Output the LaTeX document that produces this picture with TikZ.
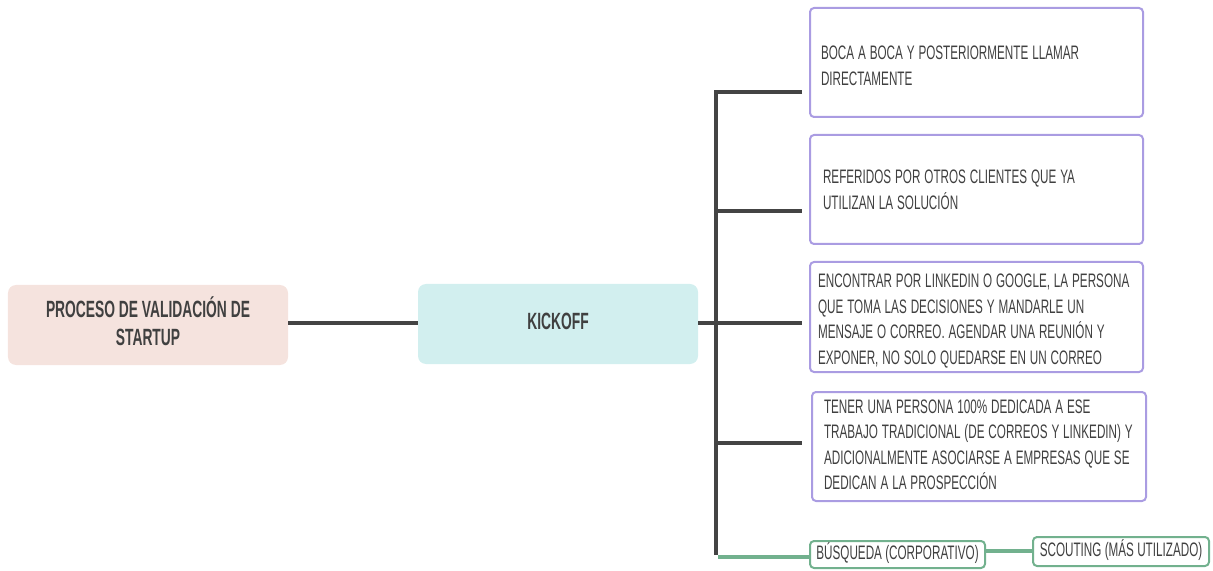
\documentclass[tikz,border=0pt]{standalone}
\usepackage{graphicx}
\usepackage{fontspec}
\setmainfont{Liberation Sans}
\definecolor{ink}{HTML}{404040}
\definecolor{trunkgrey}{HTML}{444444}
\definecolor{rootfill}{HTML}{F5E3DE}
\definecolor{kickfill}{HTML}{D2EFEF}
\definecolor{leafedge}{HTML}{AA9CE2}
\definecolor{greenedge}{HTML}{72B18E}
% condensed caps: squeeze a block of lines horizontally,
% optionally nudged down without changing its size
\newcommand{\hubtext}[1]{\scalebox{0.588}[1]{\begin{tabular}{@{}c@{}}#1\end{tabular}}}
\newcommand{\leaftext}[2][0bp]{\raisebox{#1}[\height][\depth]{\scalebox{0.6}[1]{\begin{tabular}{@{}l@{}}#2\end{tabular}}}}
\begin{document}
\begin{tikzpicture}[x=1bp,y=-1bp,
  hub/.style={rounded corners=8bp, inner sep=0pt, minimum width=280bp,
    minimum height=80bp, align=center, text=ink,
    font=\bfseries\fontsize{23.5bp}{28bp}\selectfont},
  leaf/.style={draw=leafedge, line width=2bp, rounded corners=4bp, fill=white,
    inner ysep=0pt, minimum height=109bp,
    align=left, text=ink, font=\fontsize{19.5bp}{25.5bp}\selectfont},
  tag/.style={draw=greenedge, line width=2bp, rounded corners=4bp, fill=white,
    inner sep=0pt, align=center, text=ink, font=\fontsize{19.5bp}{22bp}\selectfont},
  trunk/.style={draw=trunkgrey, line width=4bp},
  greenlink/.style={draw=greenedge, line width=4bp}]
\useasboundingbox (0,0) rectangle (1213,571);

% central nodes
\node[hub, fill=rootfill] (root) at (148,325) {\hubtext{PROCESO DE VALIDACIÓN DE\\STARTUP}};
\node[hub, fill=kickfill] (kick) at (558,324) {\hubtext{KICKOFF}};

% leaf boxes (text width + 2 inner xsep = 333)
\node[leaf, inner xsep=11bp, text width=311bp] (boca) at (976.5,62.5) {\leaftext[-5bp]{BOCA A BOCA Y POSTERIORMENTE LLAMAR\\DIRECTAMENTE}};
\node[leaf, inner xsep=13bp, text width=307bp] (refer) at (976.5,189.5) {\leaftext[-2bp]{REFERIDOS POR OTROS CLIENTES QUE YA\\UTILIZAN LA SOLUCIÓN}};
\node[leaf, inner xsep=8bp, text width=317bp, minimum height=110bp] (encon) at (976.5,317) {\leaftext[-4bp]{ENCONTRAR POR LINKEDIN O GOOGLE, LA PERSONA\\QUE TOMA LAS DECISIONES Y MANDARLE UN\\MENSAJE O CORREO. AGENDAR UNA REUNIÓN Y\\EXPONER, NO SOLO QUEDARSE EN UN CORREO}};
\node[leaf, inner xsep=12bp, text width=310bp] (tener) at (979,446.5) {\leaftext{TENER UNA PERSONA 100\% DEDICADA A ESE\\TRABAJO TRADICIONAL (DE CORREOS Y LINKEDIN) Y\\ADICIONALMENTE ASOCIARSE A EMPRESAS QUE SE\\DEDICAN A LA PROSPECCIÓN}};
\node[tag, minimum width=175bp, minimum height=27bp] (busq) at (897.5,554.5) {\leaftext{BÚSQUEDA (CORPORATIVO)}};
\node[tag, minimum width=176bp, minimum height=29bp] (scout) at (1121,551.5) {\leaftext{SCOUTING (MÁS UTILIZADO)}};

% spine and branch ends
\coordinate (top) at (716,92);
\coordinate (bottom) at (716,557);
\coordinate (e1) at (802,92);
\coordinate (e2) at (802,211);
\coordinate (e3) at (802,323);
\coordinate (e4) at (802,443);
\coordinate (s2) at (716,211);
\coordinate (s4) at (716,443);

\draw[trunk] (root.east |- 0,323) -- (kick.west |- 0,323);
\draw[trunk] (kick.east |- 0,323) -- (e3);
\draw[trunk] (e1) -- (top) -- ([yshift=2bp]bottom);
\draw[trunk] (s2) -- (e2);
\draw[trunk] (s4) -- (e4);
\draw[greenlink] ([xshift=2bp]bottom) -- (busq.west |- bottom);
\draw[greenlink] (busq.east |- 0,551) -- (scout.west |- 0,551);
\end{tikzpicture}
\end{document}
